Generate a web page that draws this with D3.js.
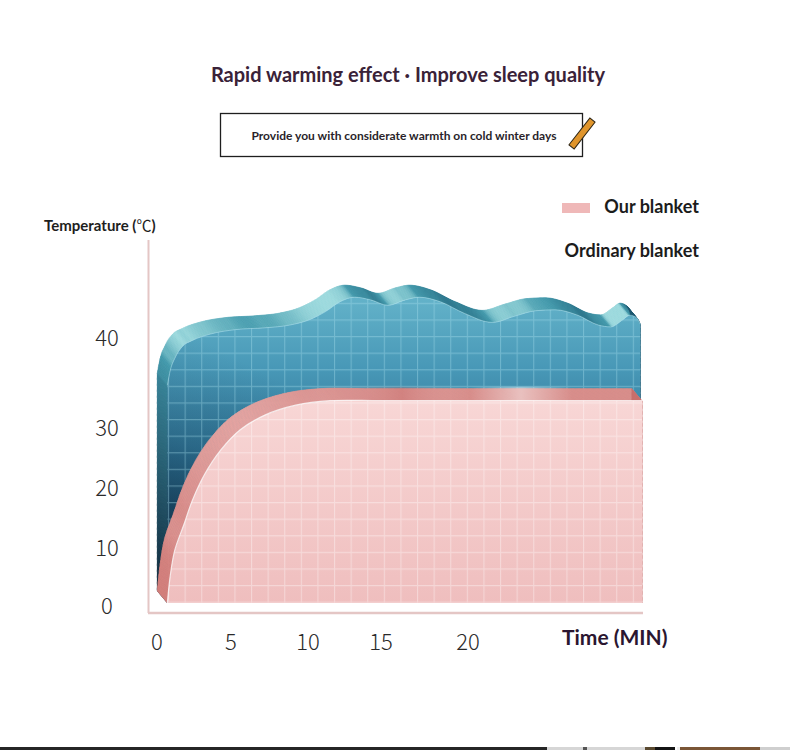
<!DOCTYPE html>
<html><head><meta charset="utf-8">
<script src="https://cdn.jsdelivr.net/npm/d3@7"></script>
<style>body{margin:0;background:#fff}svg{display:block}</style>
</head><body><svg id="c" width="790" height="750"></svg>
<script>
// ---------- data ----------
const title = "Rapid warming effect · Improve sleep quality";
const subtitle = "Provide you with considerate warmth on cold winter days";
const yAxisTitle = "Temperature (";
const yAxisUnit = "℃";
const xAxisTitle = "Time (MIN)";
const seriesNames = ["Our blanket", "Ordinary blanket"];
const timeTicks = [0, 5, 10, 15, 20];
const tempTicks = [0, 10, 20, 30, 40];
// Our blanket (pink) – front face top
const ourTime = [0.7, 0.9, 1.2, 1.8, 2.4, 3.2, 4.3, 5.6, 7.2, 9.2, 11.5, 15, 20, 25, 30];
const ourTemp = [0, 4.8, 9.1, 13.3, 17.5, 21.7, 25.8, 29.2, 31.1, 32.2, 32.7, 32.7, 32.7, 32.7, 32.7];
// Ordinary blanket (blue) – front face top
const ordTime = [0.7, 0.9, 1.2, 1.7, 2.4, 3.6, 5.3, 7.2, 8.8, 10.1, 11.2, 12.2, 13.2, 14.3, 15.4, 16.4, 17.2, 18.4, 19.8, 21.4, 22.7, 23.9, 25.0, 26.3, 27.5, 28.2, 28.9, 29.3, 29.7, 29.9];
const ordTemp = [34.4, 36.1, 37.4, 38.7, 39.4, 40.1, 40.6, 40.8, 41.1, 41.7, 42.6, 43.7, 44.2, 43.9, 43.3, 43.9, 44.2, 43.7, 42.4, 41.4, 42.1, 42.7, 42.8, 42.2, 41.1, 40.9, 41.7, 42.2, 41.9, 41.2];

// ---------- setup ----------
const svg = d3.select("#c");
const x = d3.scaleLinear().domain(timeTicks).range([157, 231, 308, 381, 468]);
const y = d3.scaleLinear().domain(tempTicks).range([603, 545, 485, 425, 335]);
const base = y(0);
const DX = -10, DY = -12;
const ourPts = ourTime.map((t, i) => [t, ourTemp[i]]);
const ordPts = ordTime.map((t, i) => [t, ordTemp[i]]);

const defs = svg.append("defs");
function lin(id, stops, x1, y1, x2, y2) {
  const g = defs.append("linearGradient").attr("id", id).attr("gradientUnits", "userSpaceOnUse")
    .attr("x1", x1).attr("y1", y1).attr("x2", x2).attr("y2", y2);
  stops.forEach(s => g.append("stop").attr("offset", s[0]).attr("stop-color", s[1]).attr("stop-opacity", s[2] == null ? 1 : s[2]));
}
lin("blueFront", [[0, "#66b5cb"], [0.25, "#4898b7"], [0.55, "#2c6f91"], [1, "#0c2c45"]], 0, 290, 0, 603);
lin("blueShade", [[0, "#06182b", 0.6], [0.6, "#06182b", 0.15], [1, "#06182b", 0]], 165, 600, 280, 380);
lin("pinkFront", [[0, "#f8d7d6"], [1, "#efbebe"]], 0, 395, 0, 603);
lin("pinkShine", [[0, "#ffffff", 0], [0.3, "#c06060", 0.25], [0.5, "#ffffff", 0], [0.65, "#ffffff", 0.45], [0.8, "#ffffff", 0], [1, "#ffffff", 0]], 300, 0, 640, 0);

function grid(id, color, op) {
  const p = defs.append("pattern").attr("id", id).attr("patternUnits", "userSpaceOnUse")
    .attr("width", 16.6).attr("height", 16.6).attr("x", 2).attr("y", 4);
  p.append("path").attr("d", "M0,0.5H16.6M0.5,0V16.6").attr("stroke", color).attr("stroke-opacity", op).attr("stroke-width", 1.2).attr("fill", "none");
}
grid("blueGrid", "#a8e0ee", 0.38);
grid("pinkGrid", "#ffffff", 0.35);

// ---------- axes lines ----------
svg.append("line").attr("x1", 148.5).attr("x2", 148.5).attr("y1", 240).attr("y2", 613)
  .attr("stroke", "#e4c6c5").attr("stroke-width", 2);
svg.append("line").attr("x1", 148).attr("x2", 643).attr("y1", 613).attr("y2", 613)
  .attr("stroke", "#e4c6c5").attr("stroke-width", 2.5);

// ---------- 3D series ----------
function gens(curve) {
  return {
    line: d3.line().x(d => x(d[0])).y(d => y(d[1])).curve(curve),
    area: d3.area().x(d => x(d[0])).y0(base).y1(d => y(d[1])).curve(curve)
  };
}
const blueGen = gens(d3.curveMonotoneX);
const pinkGen = gens(d3.curveCatmullRom.alpha(0.5));
const LX = -0.6, LY = -0.8;

function extrude(pts, lineGen, leftEdge, colorFn) {
  const g = svg.append("g");
  let d = lineGen(pts);
  if (leftEdge) d = `M${x(pts[0][0])},${base}L` + d.slice(1);
  const last = pts[pts.length - 1];
  d += `L${x(last[0])},${base}`;
  const tmp = svg.append("path").attr("d", d).attr("fill", "none").attr("opacity", 0);
  const node = tmp.node(), L = node.getTotalLength();
  const s = [];
  for (let l = 0; l < L; l += 1.2) s.push(node.getPointAtLength(l));
  s.push(node.getPointAtLength(L));
  tmp.remove();
  for (let i = 0; i < s.length - 1; i++) {
    const a = s[i], b = s[i + 1];
    const th = Math.atan2(b.y - a.y, b.x - a.x);
    const nx = Math.sin(th), ny = -Math.cos(th);
    const light = Math.max(0, Math.min(1, nx * LX + ny * LY));
    const c = colorFn(light, (a.y + b.y) / 2, (a.x + b.x) / 2);
    g.append("path")
      .attr("d", `M${a.x},${a.y}L${b.x},${b.y}L${b.x + DX},${b.y + DY}L${a.x + DX},${a.y + DY}Z`)
      .attr("fill", c).attr("stroke", c).attr("stroke-width", 0.7);
  }
  return g;
}

// Blue (ordinary blanket)
const blueRamp = d3.scaleLinear().domain([0, 0.8, 1]).range(["#1c5870", "#3f97aa", "#9bd9dd"]);
extrude(ordPts, blueGen.line, true, (l, yy) => {
  const c = blueRamp(l);
  const t = Math.max(0, Math.min(1, (yy - 370) / 220));
  return d3.interpolateRgb(c, "#081e31")(t * 0.9);
});
svg.append("path").attr("d", blueGen.area(ordPts)).attr("fill", "url(#blueFront)");
svg.append("path").attr("d", blueGen.area(ordPts)).attr("fill", "url(#blueShade)");
svg.append("path").attr("d", blueGen.area(ordPts)).attr("fill", "url(#blueGrid)");
svg.append("path").attr("d", blueGen.line(ordPts)).attr("fill", "none").attr("stroke", "#b6e6ef").attr("stroke-opacity", 0.5).attr("stroke-width", 1);

// Pink (our blanket)
const pinkRamp = d3.scaleLinear().domain([0, 0.7, 1]).range(["#c96f6c", "#d9837f", "#e6a4a1"]);
extrude(ourPts, pinkGen.line, false, (l) => pinkRamp(l));
svg.append("path").attr("d", `M300,${y(32.7) + DY - 2}H640V${y(32.7) + 1}H300Z`).attr("fill", "url(#pinkShine)");
svg.append("path").attr("d", pinkGen.area(ourPts)).attr("fill", "url(#pinkFront)");
svg.append("path").attr("d", pinkGen.area(ourPts)).attr("fill", "url(#pinkGrid)");
svg.append("path").attr("d", pinkGen.line(ourPts)).attr("fill", "none").attr("stroke", "#ffffff").attr("stroke-opacity", 0.75).attr("stroke-width", 1.2);

// ---------- tick labels ----------
const tickFont = "'Noto Sans CJK SC', 'Noto Sans', sans-serif";
svg.append("g").selectAll("text").data(tempTicks).join("text")
  .attr("x", 107).attr("y", d => y(d) + 3).attr("dy", "0.35em")
  .attr("text-anchor", "middle").attr("font-family", tickFont).attr("font-weight", 300)
  .attr("font-size", 22).attr("fill", "#2a2a2a").text(d => d);
svg.append("g").selectAll("text").data(timeTicks).join("text")
  .attr("x", d => x(d)).attr("y", 642).attr("dy", "0.35em")
  .attr("text-anchor", "middle").attr("font-family", tickFont).attr("font-weight", 300)
  .attr("font-size", 22).attr("fill", "#2a2a2a").text(d => d);

// ---------- titles ----------
const lato = "Lato, 'Open Sans', sans-serif";
svg.append("text").attr("x", 408).attr("y", 82).attr("text-anchor", "middle")
  .attr("font-family", lato).attr("font-weight", 700).attr("font-size", 20).attr("fill", "#3a2238").text(title);
svg.append("rect").attr("x", 220.5).attr("y", 113.5).attr("width", 362).attr("height", 43)
  .attr("fill", "#fff").attr("stroke", "#1e1e1e").attr("stroke-width", 1.3);
svg.append("text").attr("x", 404).attr("y", 140).attr("text-anchor", "middle")
  .attr("font-family", lato).attr("font-weight", 700).attr("font-size", 12).attr("fill", "#2a1f2a").text(subtitle);
svg.append("g").attr("transform", "translate(582,133.5) rotate(-52)")
  .append("rect").attr("x", -17).attr("y", -3.3).attr("width", 34).attr("height", 6.6)
  .attr("fill", "#e0952c").attr("stroke", "#2e2616").attr("stroke-width", 1);

const yt = svg.append("text").attr("x", 44).attr("y", 231).attr("font-family", lato).attr("font-weight", 700)
  .attr("font-size", 15).attr("fill", "#1e1e1e");
yt.append("tspan").text(yAxisTitle);
yt.append("tspan").attr("font-family", "'Noto Sans CJK SC', sans-serif").attr("font-weight", 400).text(yAxisUnit);
yt.append("tspan").text(")");
svg.append("text").attr("x", 562).attr("y", 645).attr("font-family", lato).attr("font-weight", 700)
  .attr("font-size", 21).attr("fill", "#2b1630").text(xAxisTitle);

// ---------- legend ----------
svg.append("rect").attr("x", 562).attr("y", 203).attr("width", 28).attr("height", 10).attr("fill", "#efb8b8");
svg.append("text").attr("x", 699).attr("y", 213).attr("text-anchor", "end").attr("font-family", lato)
  .attr("font-weight", 700).attr("font-size", 18).attr("fill", "#1c1c1c").text(seriesNames[0]);
svg.append("text").attr("x", 699).attr("y", 257).attr("text-anchor", "end").attr("font-family", lato)
  .attr("font-weight", 700).attr("font-size", 18).attr("fill", "#1c1c1c").text(seriesNames[1]);

// ---------- bottom photo strip ----------
[[0, 547, "#262626"], [547, 98, "#d6d6d6"], [583, 4, "#555"], [645, 10, "#5a4a30"], [655, 20, "#141414"],
 [677, 3, "#eee"], [680, 80, "#7a5636"], [760, 30, "#cfcfcf"]].forEach(r =>
  svg.append("rect").attr("x", r[0]).attr("y", 747).attr("width", r[1]).attr("height", 3).attr("fill", r[2]));
</script></body></html>
